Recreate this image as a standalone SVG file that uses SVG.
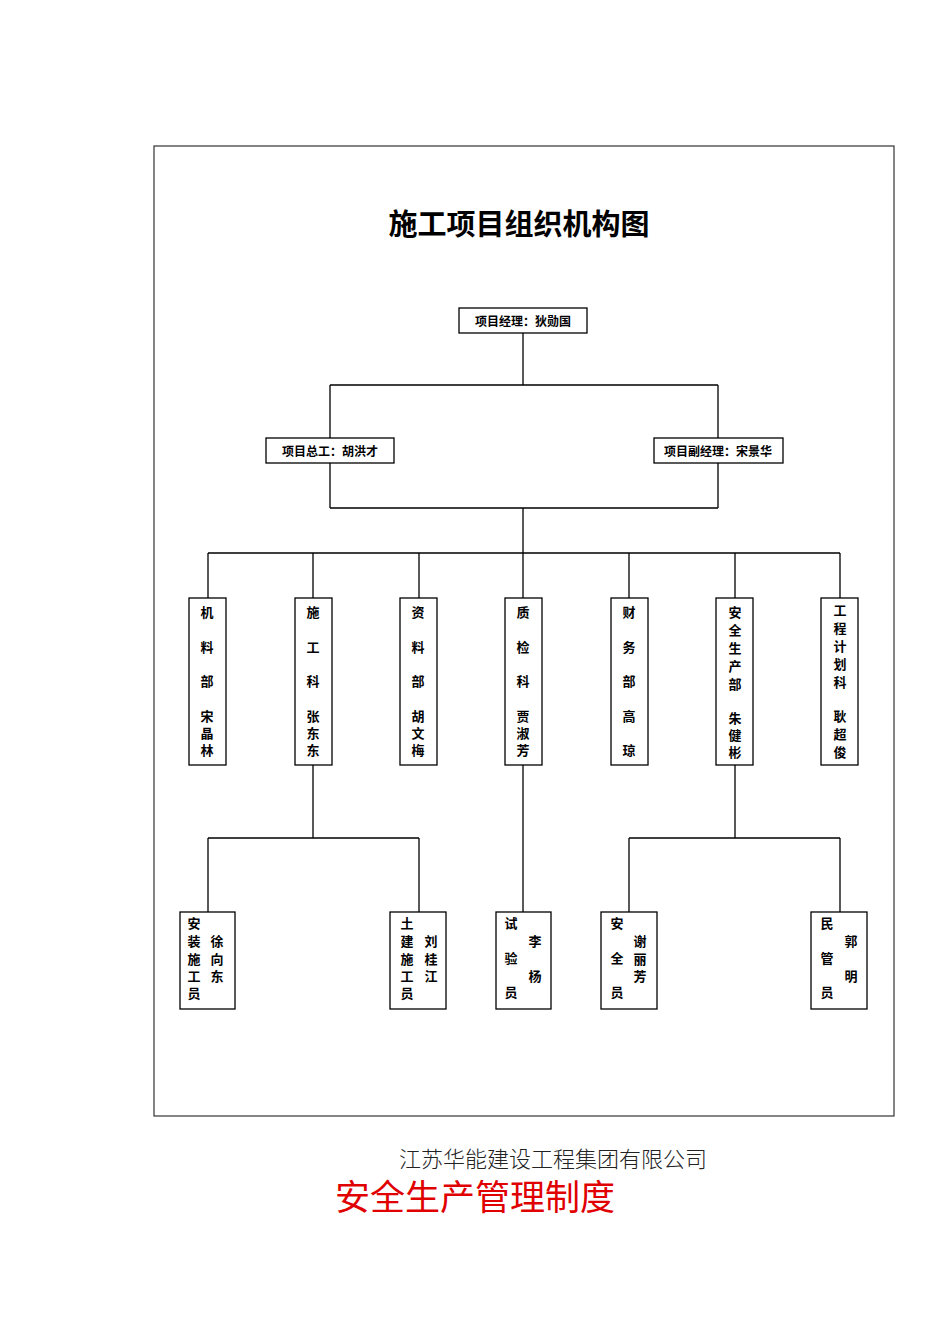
<svg xmlns="http://www.w3.org/2000/svg" width="950" height="1344" viewBox="0 0 950 1344">
<style>
.box{fill:#fff;stroke:#000;stroke-width:1.3}
.ln{fill:none;stroke:#000;stroke-width:1.3}
.t{font-family:"Noto Sans CJK SC",sans-serif;font-weight:bold;font-size:13px;fill:#000;text-anchor:middle;dominant-baseline:central}
.h{font-family:"Noto Sans CJK SC",sans-serif;font-weight:bold;font-size:12px;fill:#000;text-anchor:middle;dominant-baseline:central}
</style>
<rect x="0" y="0" width="950" height="1344" fill="#fff"/>
<rect x="154" y="146" width="740" height="970" fill="none" stroke="#333" stroke-width="1.2"/>
<text x="519" y="222" font-family="Noto Sans CJK SC,sans-serif" font-weight="bold" font-size="29" text-anchor="middle" dominant-baseline="central">施工项目组织机构图</text>
<g id="connectors" class="ln">
<path d="M523 333V385M330 385H718M330 385V438M718 385V438"/>
<path d="M330 463V508M718 463V508M330 508H718M523 508V553M208 553H840"/>
<path d="M208 553V598M313 553V598M419 553V598M523 553V598M629 553V598M735 553V598M840 553V598"/>
<path d="M313 765V838M208 838H419M208 838V912M419 838V912"/>
<path d="M523 765V912"/>
<path d="M735 765V838M629 838H840M629 838V912M840 838V912"/>
</g>
<g id="n-pm"><rect class="box" x="459" y="308" width="128" height="25"/><text class="h" x="523" y="320">项目经理：狄勋国</text></g>
<g id="n-ce"><rect class="box" x="266" y="438" width="128" height="25"/><text class="h" x="330" y="450">项目总工：胡洪才</text></g>
<g id="n-dpm"><rect class="box" x="654" y="438" width="129" height="25"/><text class="h" x="718" y="450">项目副经理：宋景华</text></g>
<g id="n-c1"><rect class="box" x="189" y="598" width="37" height="167"/>
<text class="t"><tspan x="207" y="611">机</tspan><tspan x="207" y="646">料</tspan><tspan x="207" y="680">部</tspan><tspan x="207" y="715">宋</tspan><tspan x="207" y="732">晶</tspan><tspan x="207" y="749">林</tspan></text></g>
<g id="n-c2"><rect class="box" x="295" y="598" width="37" height="167"/>
<text class="t"><tspan x="313" y="611">施</tspan><tspan x="313" y="646">工</tspan><tspan x="313" y="680">科</tspan><tspan x="313" y="715">张</tspan><tspan x="313" y="732">东</tspan><tspan x="313" y="749">东</tspan></text></g>
<g id="n-c3"><rect class="box" x="400" y="598" width="37" height="167"/>
<text class="t"><tspan x="418" y="611">资</tspan><tspan x="418" y="646">料</tspan><tspan x="418" y="680">部</tspan><tspan x="418" y="715">胡</tspan><tspan x="418" y="732">文</tspan><tspan x="418" y="749">梅</tspan></text></g>
<g id="n-c4"><rect class="box" x="505" y="598" width="37" height="167"/>
<text class="t"><tspan x="523" y="611">质</tspan><tspan x="523" y="646">检</tspan><tspan x="523" y="680">科</tspan><tspan x="523" y="715">贾</tspan><tspan x="523" y="732">淑</tspan><tspan x="523" y="749">芳</tspan></text></g>
<g id="n-c5"><rect class="box" x="611" y="598" width="37" height="167"/>
<text class="t"><tspan x="629" y="611">财</tspan><tspan x="629" y="646">务</tspan><tspan x="629" y="680">部</tspan><tspan x="629" y="715">高</tspan><tspan x="629" y="749">琼</tspan></text></g>
<g id="n-c6"><rect class="box" x="716" y="598" width="37" height="167"/>
<text class="t"><tspan x="735" y="611">安</tspan><tspan x="735" y="629">全</tspan><tspan x="735" y="647">生</tspan><tspan x="735" y="665">产</tspan><tspan x="735" y="683">部</tspan><tspan x="735" y="717">朱</tspan><tspan x="735" y="734">健</tspan><tspan x="735" y="751">彬</tspan></text></g>
<g id="n-c7"><rect class="box" x="821" y="598" width="37" height="167"/>
<text class="t"><tspan x="840" y="609">工</tspan><tspan x="840" y="627">程</tspan><tspan x="840" y="645">计</tspan><tspan x="840" y="663">划</tspan><tspan x="840" y="681">科</tspan><tspan x="840" y="715">耿</tspan><tspan x="840" y="733">超</tspan><tspan x="840" y="751">俊</tspan></text></g>
<g id="n-b1"><rect class="box" x="180" y="912" width="55" height="97"/>
<text class="t"><tspan x="194" y="922">安</tspan><tspan x="194" y="940">装</tspan><tspan x="194" y="958">施</tspan><tspan x="194" y="975">工</tspan><tspan x="194" y="992">员</tspan><tspan x="217" y="940">徐</tspan><tspan x="217" y="958">向</tspan><tspan x="217" y="975">东</tspan></text></g>
<g id="n-b2"><rect class="box" x="390" y="912" width="56" height="97"/>
<text class="t"><tspan x="407" y="922">土</tspan><tspan x="407" y="940">建</tspan><tspan x="407" y="958">施</tspan><tspan x="407" y="975">工</tspan><tspan x="407" y="992">员</tspan><tspan x="431" y="940">刘</tspan><tspan x="431" y="958">桂</tspan><tspan x="431" y="975">江</tspan></text></g>
<g id="n-b3"><rect class="box" x="496" y="912" width="55" height="97"/>
<text class="t"><tspan x="511" y="922">试</tspan><tspan x="511" y="957">验</tspan><tspan x="511" y="991">员</tspan><tspan x="535" y="940">李</tspan><tspan x="535" y="975">杨</tspan></text></g>
<g id="n-b4"><rect class="box" x="601" y="912" width="56" height="97"/>
<text class="t"><tspan x="617" y="922">安</tspan><tspan x="617" y="957">全</tspan><tspan x="617" y="991">员</tspan><tspan x="640" y="940">谢</tspan><tspan x="640" y="958">丽</tspan><tspan x="640" y="975">芳</tspan></text></g>
<g id="n-b5"><rect class="box" x="811" y="912" width="56" height="97"/>
<text class="t"><tspan x="827" y="922">民</tspan><tspan x="827" y="957">管</tspan><tspan x="827" y="991">员</tspan><tspan x="851" y="940">郭</tspan><tspan x="851" y="975">明</tspan></text></g>
<text x="553" y="1157" font-family="Noto Sans CJK SC,sans-serif" font-size="22" font-weight="300" fill="#222" text-anchor="middle" dominant-baseline="central">江苏华能建设工程集团有限公司</text>
<text x="475" y="1194" font-family="Noto Sans CJK SC,sans-serif" font-size="35" fill="#e00000" text-anchor="middle" dominant-baseline="central">安全生产管理制度</text>
</svg>
